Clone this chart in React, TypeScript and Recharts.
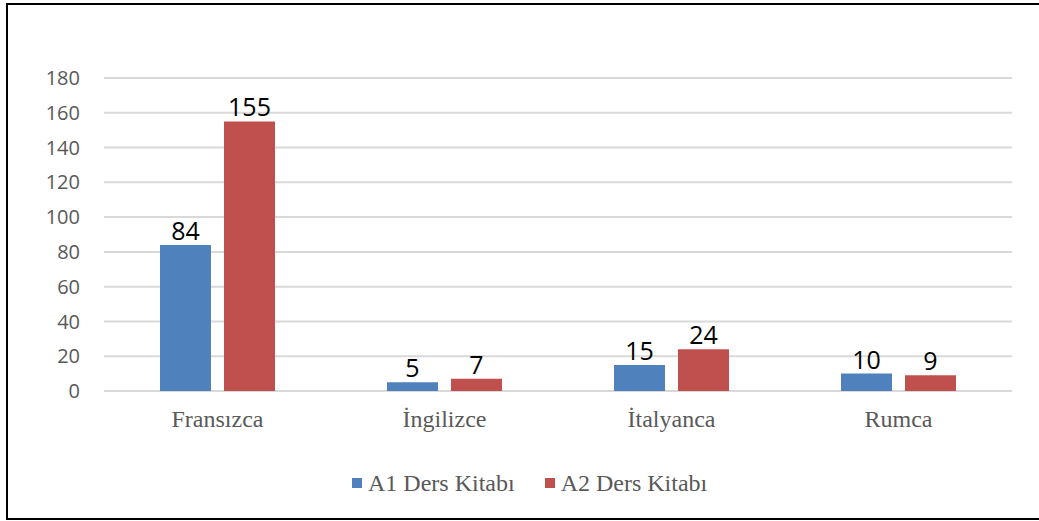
import React from 'react';
import { BarChart, Bar, XAxis, YAxis, CartesianGrid, LabelList, Legend } from 'recharts';

const categories = ['Fransızca', 'İngilizce', 'İtalyanca', 'Rumca'];
const a1Values = [84, 5, 15, 10];
const a2Values = [155, 7, 24, 9];
const yTicks = [0, 20, 40, 60, 80, 100, 120, 140, 160, 180];
const seriesNames = ['A1 Ders Kitabı', 'A2 Ders Kitabı'];
const seriesColors = ['#4F81BD', '#C0504D'];

const data = categories.map((c, i) => ({ name: c, a1: a1Values[i], a2: a2Values[i] }));

const LegendContent = () => (
  <div style={{ display: 'flex', alignItems: 'center', fontFamily: '"Liberation Serif", "Times New Roman", serif', fontSize: 24, color: '#595959', whiteSpace: 'nowrap' }}>
    {seriesNames.map((n, i) => (
      <div key={n} style={{ display: 'flex', alignItems: 'center', marginRight: i === 0 ? 30 : 0 }}>
        <span style={{ display: 'inline-block', width: 10, height: 10, background: seriesColors[i], marginRight: 6 }} />
        <span style={{ lineHeight: '24px' }}>{n}</span>
      </div>
    ))}
  </div>
);

export default function App() {
  return (
    <div style={{ position: 'absolute', left: 0, top: 0, width: 1039, height: 521, overflow: 'hidden', background: '#fff' }}>
      <div style={{ position: 'absolute', left: 6, top: 3, width: 1040, height: 517, border: '2px solid #000', boxSizing: 'border-box' }} />
      <div style={{ position: 'absolute', left: 0, top: 0 }}>
        <BarChart
          width={1039}
          height={521}
          data={data}
          margin={{ top: 78, right: 27, left: 0, bottom: 100 }}
          barSize={51}
          barGap={13}
        >
          <CartesianGrid vertical={false} stroke="#D9D9D9" strokeWidth={2} />
          <XAxis
            dataKey="name"
            axisLine={false}
            tickLine={false}
            tickMargin={13}
            height={30}
            tick={{ fill: '#595959', fontSize: 24, fontFamily: '"Liberation Serif", "Times New Roman", serif' }}
          />
          <YAxis
            width={104}
            domain={[0, 180]}
            ticks={yTicks}
            interval={0}
            axisLine={false}
            tickLine={false}
            tickMargin={18}
            tick={{ fill: '#595959', fontSize: 20, fontFamily: '"Open Sans", sans-serif' }}
          />
          <Legend
            verticalAlign="middle"
            align="center"
            layout="horizontal"
            wrapperStyle={{ left: 352, top: 471, width: 'auto' }}
            content={<LegendContent />}
          />
          <Bar dataKey="a1" name={seriesNames[0]} fill={seriesColors[0]} isAnimationActive={false}>
            <LabelList dataKey="a1" position="top" offset={5} fill="#000" fontSize={25} fontFamily='"Open Sans", sans-serif' />
          </Bar>
          <Bar dataKey="a2" name={seriesNames[1]} fill={seriesColors[1]} isAnimationActive={false}>
            <LabelList dataKey="a2" position="top" offset={5} fill="#000" fontSize={25} fontFamily='"Open Sans", sans-serif' />
          </Bar>
        </BarChart>
      </div>
    </div>
  );
}
